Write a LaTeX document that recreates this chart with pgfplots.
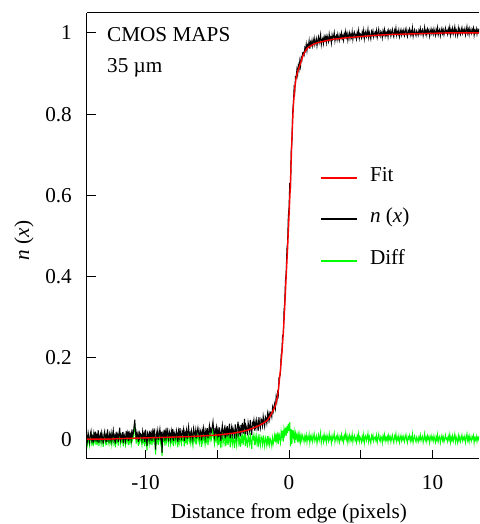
\documentclass[border=0pt]{standalone}
\usepackage{fontspec}
\setmainfont{Liberation Serif}
\usepackage{pgfplots}
\usepackage{pgfplotstable}
\pgfplotsset{compat=1.18}
\newcommand\fs{\fontsize{21.2}{25}\selectfont}
\pgfplotstableread{
x f
-14.1 0.000
-12.5 0.000
-12.0 0.001
-11.0 0.002
-10.0 0.003
-9.0 0.004
-8.0 0.005
-7.0 0.006
-6.0 0.008
-5.0 0.010
-4.5 0.012
-4.0 0.014
-3.5 0.017
-3.0 0.021
-2.5 0.027
-2.0 0.035
-1.8 0.039
-1.6 0.044
-1.5 0.047
-1.4 0.052
-1.3 0.058
-1.2 0.064
-1.1 0.071
-1.0 0.078
-0.9 0.090
-0.8 0.105
-0.7 0.135
-0.6 0.170
-0.5 0.210
-0.4 0.260
-0.3 0.325
-0.2 0.400
-0.1 0.470
0.0 0.550
0.1 0.630
0.2 0.740
0.3 0.820
0.4 0.865
0.5 0.890
0.6 0.905
0.7 0.915
0.8 0.925
0.9 0.937
1.0 0.946
1.1 0.953
1.2 0.959
1.3 0.963
1.4 0.966
1.5 0.968
1.7 0.972
2.0 0.976
2.5 0.980
3.0 0.984
3.5 0.986
4.0 0.988
5.0 0.991
6.0 0.994
7.0 0.996
8.0 0.997
9.0 0.998
10.0 0.999
11.0 1.000
13.3 1.000
}\fitdata
\pgfplotstableread{
x n d
-14.10 0.010 0.002
-14.05 -0.004 -0.012
-14.00 0.015 0.007
-13.95 0.002 -0.006
-13.90 -0.008 -0.016
-13.85 0.012 0.004
-13.80 0.020 0.012
-13.75 -0.002 -0.010
-13.70 0.006 -0.002
-13.65 -0.010 -0.018
-13.60 0.014 0.006
-13.55 0.003 -0.005
-13.50 0.018 0.010
-13.45 -0.006 -0.014
-13.40 0.009 0.001
-13.35 0.000 -0.008
-13.30 0.022 0.014
-13.25 -0.009 -0.017
-13.20 0.007 -0.001
-13.15 0.013 0.005
-13.10 -0.003 -0.011
-13.05 0.016 0.008
-13.00 0.004 -0.004
-12.95 -0.011 -0.019
-12.90 0.011 0.003
-12.85 0.019 0.011
-12.80 -0.001 -0.009
-12.75 0.008 0.000
-12.70 -0.007 -0.015
-12.65 0.024 0.016
-12.60 0.005 -0.003
-12.55 -0.004 -0.012
-12.50 0.012 0.004
-12.45 0.001 -0.007
-12.40 0.015 0.006
-12.35 -0.004 -0.013
-12.30 0.010 0.001
-12.25 0.022 0.013
-12.20 -0.001 -0.010
-12.15 0.007 -0.002
-12.10 -0.011 -0.020
-12.05 0.018 0.009
-12.00 0.004 -0.005
-11.95 0.011 0.002
-11.90 -0.007 -0.016
-11.85 0.014 0.005
-11.80 0.028 0.019
-11.75 -0.002 -0.011
-11.70 0.009 0.000
-11.65 0.003 -0.006
-11.60 0.017 0.008
-11.55 -0.009 -0.018
-11.50 0.012 0.003
-11.45 0.006 -0.003
-11.40 -0.005 -0.014
-11.35 0.020 0.011
-11.30 0.006 -0.004
-11.25 0.015 0.005
-11.20 -0.005 -0.015
-11.15 0.020 0.010
-11.10 0.003 -0.007
-11.05 0.011 0.001
-11.00 -0.002 -0.012
-10.95 0.024 0.014
-10.90 0.008 -0.002
-10.85 0.014 0.004
-10.80 0.032 0.022
-10.75 0.048 0.038
-10.70 0.017 0.007
-10.65 -0.001 -0.011
-10.60 0.017 0.007
-10.55 0.009 -0.001
-10.50 -0.007 -0.017
-10.45 0.021 0.011
-10.40 0.004 -0.006
-10.35 0.013 0.003
-10.30 0.010 -0.001
-10.25 -0.003 -0.014
-10.20 0.019 0.008
-10.15 0.005 -0.006
-10.10 0.013 0.002
-10.05 -0.007 -0.018
-10.00 0.023 0.012
-9.95 0.007 -0.004
-9.90 -0.017 -0.028
-9.85 0.016 0.005
-9.80 0.011 0.000
-9.75 -0.001 -0.012
-9.70 0.021 0.010
-9.65 0.004 -0.007
-9.60 0.014 0.003
-9.55 -0.004 -0.015
-9.50 0.018 0.007
-9.45 0.008 -0.003
-9.40 0.026 0.015
-9.35 0.001 -0.010
-9.30 -0.026 -0.038
-9.25 0.016 0.004
-9.20 0.007 -0.005
-9.15 0.021 0.009
-9.10 -0.002 -0.014
-9.05 0.013 0.001
-9.00 0.025 0.013
-8.95 0.004 -0.008
-8.90 0.018 0.006
-8.85 -0.034 -0.042
-8.80 0.014 0.002
-8.75 0.009 -0.003
-8.70 0.023 0.011
-8.65 -0.004 -0.016
-8.60 0.017 0.005
-8.55 0.006 -0.006
-8.50 0.028 0.016
-8.45 0.010 -0.002
-8.40 0.000 -0.012
-8.35 0.020 0.008
-8.30 0.013 0.000
-8.25 0.000 -0.013
-8.20 0.020 0.007
-8.15 0.008 -0.005
-8.10 0.025 0.012
-8.05 -0.004 -0.017
-8.00 0.016 0.003
-7.95 0.011 -0.002
-7.90 0.003 -0.010
-7.85 0.022 0.009
-7.80 0.014 0.001
-7.75 -0.007 -0.020
-7.70 0.019 0.006
-7.65 0.006 -0.007
-7.60 0.027 0.014
-7.55 0.009 -0.004
-7.50 0.002 -0.012
-7.45 0.019 0.005
-7.40 0.013 -0.001
-7.35 0.024 0.010
-7.30 -0.004 -0.018
-7.25 0.016 0.002
-7.20 0.009 -0.005
-7.15 0.022 0.008
-7.10 0.000 -0.014
-7.05 0.018 0.004
-7.00 0.031 0.017
-6.95 0.008 -0.006
-6.90 0.015 0.001
-6.85 0.003 -0.011
-6.80 0.021 0.006
-6.75 0.011 -0.004
-6.70 -0.001 -0.016
-6.65 0.026 0.011
-6.60 0.015 0.000
-6.55 0.008 -0.007
-6.50 0.023 0.008
-6.45 0.002 -0.013
-6.40 0.018 0.003
-6.35 0.028 0.013
-6.30 0.014 -0.002
-6.25 0.005 -0.011
-6.20 0.023 0.007
-6.15 0.017 0.001
-6.10 -0.003 -0.019
-6.05 0.021 0.005
-6.00 0.010 -0.006
-5.95 0.028 0.012
-5.90 0.015 -0.001
-5.85 0.002 -0.014
-5.80 0.021 0.004
-5.75 0.012 -0.005
-5.70 0.027 0.010
-5.65 0.002 -0.015
-5.60 0.019 0.002
-5.55 0.033 0.016
-5.50 0.014 -0.003
-5.45 0.025 0.008
-5.40 0.018 0.000
-5.35 0.030 0.012
-5.30 0.043 0.025
-5.25 0.021 0.003
-5.20 0.006 -0.012
-5.15 0.024 0.006
-5.10 0.016 -0.002
-5.05 0.029 0.011
-5.00 0.008 -0.010
-4.95 0.022 0.004
-4.90 0.005 -0.014
-4.85 0.029 0.010
-4.80 0.015 -0.004
-4.75 -0.004 -0.023
-4.70 0.021 0.002
-4.65 0.034 0.014
-4.60 0.009 -0.011
-4.55 0.019 -0.001
-4.50 0.027 0.007
-4.45 0.002 -0.018
-4.40 0.025 0.005
-4.35 0.014 -0.007
-4.30 0.032 0.011
-4.25 0.006 -0.015
-4.20 0.022 0.001
-4.15 0.038 0.016
-4.10 0.002 -0.020
-4.05 0.019 -0.003
-4.00 0.030 0.008
-3.95 0.011 -0.012
-3.90 0.026 0.003
-3.85 0.017 -0.006
-3.80 0.001 -0.022
-3.75 0.036 0.012
-3.70 0.022 -0.002
-3.65 0.008 -0.016
-3.60 0.030 0.006
-3.55 0.043 0.018
-3.50 0.015 -0.010
-3.45 0.026 0.000
-3.40 0.007 -0.019
-3.35 0.035 0.009
-3.30 0.021 -0.005
-3.25 0.040 0.013
-3.20 0.013 -0.014
-3.15 0.030 0.002
-3.10 0.050 0.022
-3.05 0.012 -0.017
-3.00 0.033 0.004
-2.95 0.026 -0.004
-2.90 0.009 -0.021
-2.85 0.041 0.010
-2.80 0.030 -0.001
-2.75 0.020 -0.012
-2.70 0.047 0.015
-2.65 0.026 -0.007
-2.60 0.010 -0.024
-2.55 0.040 0.005
-2.50 0.035 0.000
-2.45 0.047 0.011
-2.40 0.021 -0.015
-2.35 0.040 0.003
-2.30 0.028 -0.010
-2.25 0.047 0.008
-2.20 0.036 -0.003
-2.15 0.020 -0.020
-2.10 0.054 0.013
-2.05 0.037 -0.005
-2.00 0.027 -0.016
-1.95 0.050 0.006
-1.90 0.046 0.001
-1.85 0.033 -0.013
-1.80 0.056 0.009
-1.75 0.042 -0.006
-1.70 0.031 -0.018
-1.65 0.055 0.004
-1.60 0.050 -0.002
-1.55 0.039 -0.015
-1.50 0.062 0.007
-1.45 0.048 -0.010
-1.40 0.062 0.002
-1.35 0.049 -0.014
-1.30 0.066 0.000
-1.25 0.064 -0.005
-1.20 0.055 -0.017
-1.15 0.078 0.003
-1.10 0.068 -0.011
-1.05 0.080 -0.002
-1.00 0.088 0.010
-0.95 0.076 -0.008
-0.90 0.104 0.014
-0.85 0.093 -0.004
-0.80 0.114 0.009
-0.75 0.107 -0.012
-0.70 0.151 0.016
-0.65 0.154 0.002
-0.60 0.161 -0.009
-0.55 0.207 0.018
-0.50 0.215 0.005
-0.45 0.255 0.021
-0.40 0.254 -0.006
-0.35 0.315 0.024
-0.30 0.337 0.012
-0.25 0.390 0.028
-0.20 0.408 0.008
-0.15 0.467 0.032
-0.10 0.485 0.015
-0.05 0.548 0.038
0.00 0.570 0.020
0.05 0.631 0.041
0.10 0.612 -0.018
0.15 0.710 0.025
0.20 0.728 -0.012
0.25 0.804 0.022
0.30 0.826 0.006
0.35 0.863 0.018
0.40 0.855 -0.010
0.45 0.893 0.014
0.50 0.893 0.003
0.55 0.910 0.012
0.60 0.897 -0.008
0.65 0.920 0.010
0.70 0.911 -0.004
0.75 0.931 0.011
0.80 0.918 -0.007
0.85 0.939 0.008
0.90 0.934 -0.003
0.95 0.951 0.009
1.00 0.952 0.003
1.05 0.946 -0.007
1.10 0.963 0.007
1.15 0.957 -0.002
1.20 0.972 0.010
1.25 0.956 -0.008
1.30 0.971 0.005
1.35 0.968 0.000
1.40 0.981 0.012
1.45 0.961 -0.009
1.50 0.977 0.006
1.55 0.971 -0.001
1.60 0.982 0.009
1.65 0.968 -0.006
1.70 0.979 0.004
1.75 0.988 0.013
1.80 0.971 -0.005
1.85 0.979 0.002
1.90 0.986 0.008
1.95 0.968 -0.010
2.00 0.981 0.001
2.05 0.990 0.010
2.10 0.976 -0.004
2.15 0.985 0.005
2.20 0.996 0.016
2.25 0.971 -0.009
2.30 0.983 0.003
2.35 0.987 0.007
2.40 0.974 -0.006
2.45 0.991 0.011
2.50 0.983 -0.001
2.55 0.990 0.006
2.60 0.976 -0.008
2.65 0.993 0.009
2.70 0.986 0.002
2.75 0.979 -0.005
2.80 0.997 0.013
2.85 0.984 0.000
2.90 0.989 0.005
2.95 0.975 -0.009
3.00 0.995 0.008
3.05 0.985 -0.002
3.10 0.991 0.004
3.15 1.001 0.014
3.20 0.980 -0.007
3.25 0.990 0.003
3.30 0.994 0.007
3.35 0.983 -0.004
3.40 0.997 0.010
3.45 0.988 0.001
3.50 0.981 -0.008
3.55 0.995 0.006
3.60 0.989 0.000
3.65 1.000 0.011
3.70 0.986 -0.003
3.75 0.993 0.004
3.80 0.982 -0.007
3.85 0.998 0.009
3.90 0.991 0.002
3.95 1.004 0.015
4.00 0.990 -0.001
4.05 0.998 0.007
4.10 0.982 -0.009
4.15 0.994 0.003
4.20 1.001 0.010
4.25 0.986 -0.005
4.30 0.996 0.005
4.35 0.989 -0.002
4.40 1.003 0.012
4.45 0.984 -0.007
4.50 0.997 0.004
4.55 1.002 0.009
4.60 0.990 -0.003
4.65 0.995 0.002
4.70 0.985 -0.008
4.75 1.001 0.008
4.80 0.993 0.000
4.85 1.006 0.013
4.90 0.987 -0.006
4.95 0.998 0.005
5.00 0.996 0.001
5.05 0.988 -0.007
5.10 1.002 0.007
5.15 0.993 -0.002
5.20 1.006 0.011
5.25 0.986 -0.009
5.30 0.999 0.004
5.35 1.004 0.009
5.40 0.991 -0.004
5.45 0.997 0.002
5.50 1.009 0.014
5.55 0.989 -0.006
5.60 1.001 0.006
5.65 0.994 -0.001
5.70 0.985 -0.010
5.75 1.003 0.008
5.80 0.996 0.001
5.85 1.005 0.010
5.90 0.990 -0.005
5.95 0.998 0.003
6.00 1.002 0.005
6.05 0.994 -0.003
6.10 1.006 0.009
6.15 0.989 -0.008
6.20 0.999 0.002
6.25 1.009 0.012
6.30 0.996 -0.001
6.35 0.991 -0.006
6.40 1.004 0.007
6.45 1.000 0.003
6.50 0.988 -0.009
6.55 1.005 0.008
6.60 0.997 0.000
6.65 1.008 0.011
6.70 0.992 -0.005
6.75 1.001 0.004
6.80 0.995 -0.002
6.85 1.003 0.006
6.90 0.990 -0.007
6.95 1.006 0.009
7.00 0.999 0.000
7.05 1.005 0.006
7.10 0.992 -0.007
7.15 1.002 0.003
7.20 1.009 0.010
7.25 0.996 -0.003
7.30 0.990 -0.009
7.35 1.006 0.007
7.40 1.000 0.001
7.45 1.012 0.013
7.50 0.994 -0.005
7.55 1.003 0.004
7.60 0.997 -0.002
7.65 1.007 0.008
7.70 0.991 -0.008
7.75 1.001 0.002
7.80 1.008 0.009
7.85 0.995 -0.004
7.90 1.004 0.005
7.95 0.998 -0.001
8.00 1.007 0.007
8.05 0.994 -0.006
8.10 1.003 0.003
8.15 1.011 0.011
8.20 0.998 -0.002
8.25 0.991 -0.009
8.30 1.006 0.006
8.35 1.001 0.001
8.40 1.009 0.009
8.45 0.995 -0.005
8.50 1.004 0.004
8.55 0.997 -0.003
8.60 1.012 0.012
8.65 0.992 -0.008
8.70 1.002 0.002
8.75 1.008 0.008
8.80 0.999 -0.001
8.85 0.993 -0.007
8.90 1.005 0.005
8.95 1.000 0.000
9.00 0.994 -0.007
9.05 1.006 0.005
9.10 1.000 -0.001
9.15 1.011 0.010
9.20 0.997 -0.004
9.25 1.004 0.003
9.30 1.008 0.007
9.35 0.993 -0.008
9.40 1.002 0.001
9.45 1.014 0.013
9.50 0.998 -0.003
9.55 1.005 0.004
9.60 0.995 -0.006
9.65 1.009 0.008
9.70 1.001 0.000
9.75 1.007 0.006
9.80 0.992 -0.009
9.85 1.003 0.002
9.90 1.010 0.009
9.95 0.999 -0.002
10.00 1.006 0.004
10.05 0.997 -0.005
10.10 1.010 0.008
10.15 1.002 0.000
10.20 0.994 -0.008
10.25 1.008 0.006
10.30 1.000 -0.002
10.35 1.013 0.011
10.40 0.996 -0.006
10.45 1.005 0.003
10.50 1.009 0.007
10.55 0.993 -0.009
10.60 1.003 0.001
10.65 1.011 0.009
10.70 0.999 -0.003
10.75 1.007 0.005
10.80 0.995 -0.007
10.85 1.004 0.002
10.90 1.012 0.010
10.95 1.001 -0.001
11.00 1.005 0.002
11.05 0.997 -0.006
11.10 1.010 0.007
11.15 1.002 -0.001
11.20 1.014 0.011
11.25 0.995 -0.008
11.30 1.007 0.004
11.35 1.000 -0.003
11.40 1.011 0.008
11.45 0.998 -0.005
11.50 1.006 0.003
11.55 1.015 0.012
11.60 0.996 -0.007
11.65 1.008 0.005
11.70 1.003 0.000
11.75 0.994 -0.009
11.80 1.012 0.009
11.85 1.001 -0.002
11.90 1.009 0.006
11.95 0.997 -0.006
12.00 1.005 0.002
12.05 1.013 0.010
12.10 0.999 -0.004
12.15 1.007 0.004
12.20 1.002 -0.001
12.25 1.010 0.007
12.30 0.995 -0.008
12.35 1.006 0.003
12.40 1.016 0.013
12.45 1.000 -0.003
12.50 1.008 0.005
12.55 0.996 -0.007
12.60 1.011 0.008
12.65 1.003 0.000
12.70 0.998 -0.005
12.75 1.009 0.006
12.80 1.004 0.001
12.85 1.012 0.009
12.90 0.994 -0.009
12.95 1.006 0.003
13.00 1.001 -0.002
13.05 1.010 0.007
13.10 0.997 -0.006
13.15 1.007 0.004
13.20 1.002 -0.001
13.25 1.011 0.008
}\edgedata

\begin{document}
\begin{tikzpicture}
\begin{axis}[
  scale only axis, width=392pt, height=446pt,
  xmin=-14.08, xmax=13.24, ymin=-0.049, ymax=1.049,
  axis x line=box, axis y line=left,
  axis line style={-, line width=1pt},
  xtick={-10,0,10}, xticklabels={-10,0,10},
  extra x ticks={-5,5}, extra x tick labels={},
  ytick={0,0.2,0.4,0.6,0.8,1}, yticklabels={0,0.2,0.4,0.6,0.8,1},
  xtick pos=bottom, ytick pos=left,
  tick align=inside, major tick length=9pt,
  tick style={line width=1pt, black},
  xticklabel style={font=\fs, anchor=north, inner sep=0pt, yshift=-16pt},
  yticklabel style={font=\fs, anchor=east, inner sep=0pt, xshift=-15pt},
  xlabel={Distance from edge (pixels)},
  xlabel style={font=\fs, at={(axis description cs:0.515,-0.1345)}, anchor=base},
  ylabel={\textit{n} (\textit{x})},
  ylabel style={font=\fs, at={(axis description cs:-0.1607,0.49)}, anchor=center},
  legend style={draw=none, fill=none, font=\fs,
    at={(axis description cs:0.5944,0.6385)}, anchor=north west,
    inner sep=0pt, row sep=34.6pt, /tikz/column sep=12pt,
    nodes={inner sep=0pt, text height=0.68em, text depth=0pt}},
  legend image code/.code={\draw[#1] (0pt,0pt) -- (36pt,0pt);},
  legend cell align=left,
]
\addlegendimage{color=red, line width=1.8pt}
\addlegendentry{Fit}
\addlegendimage{color=black, line width=1.8pt}
\addlegendentry{\textit{n} (\textit{x})}
\addlegendimage{color=green, line width=1.8pt}
\addlegendentry{Diff}
\addplot[forget plot, green, line width=1pt] table[x=x, y=d] {\edgedata};
\addplot[forget plot, black, line width=1pt] table[x=x, y=n] {\edgedata};
\addplot[forget plot, red, line width=1.4pt] table[x=x, y=f] {\fitdata};
\node[anchor=base west, font=\fs, inner sep=0pt] at (axis description cs:0.051,0.9357) {CMOS MAPS};
\node[anchor=base west, font=\fs, inner sep=0pt] at (axis description cs:0.051,0.866) {35 µm};
\coordinate (SW) at (rel axis cs:0,0);
\coordinate (NE) at (rel axis cs:1,1);
\end{axis}
\pgfresetboundingbox
\path[use as bounding box] ([shift={(-87pt,-65pt)}]SW) rectangle ([shift={(0pt,13pt)}]NE);
\end{tikzpicture}
\end{document}
